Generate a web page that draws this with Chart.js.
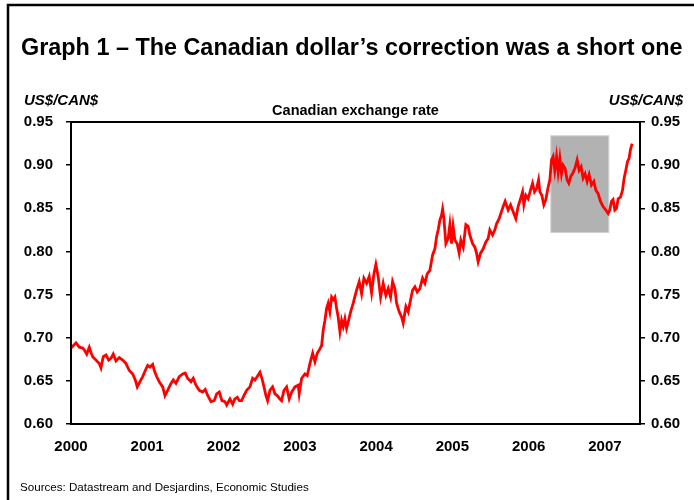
<!DOCTYPE html>
<html>
<head>
<meta charset="utf-8">
<script src="https://cdn.jsdelivr.net/npm/chart.js@4/dist/chart.umd.min.js"></script>
<style>
  html, body { margin: 0; padding: 0; background: #fff; }
  canvas { display: block; }
</style>
</head>
<body>
<canvas id="myChart" width="694" height="500"></canvas>
<script>
// CAD in US$ (decimal years)
const years = [
  2000.000, 2000.066, 2000.109, 2000.153, 2000.174, 2000.206, 2000.240, 2000.262, 2000.284, 2000.328,
  2000.371, 2000.393, 2000.423, 2000.459, 2000.494, 2000.524, 2000.554, 2000.590, 2000.633, 2000.678,
  2000.721, 2000.764, 2000.809, 2000.843, 2000.869, 2000.904, 2000.940, 2000.974, 2001.005, 2001.035,
  2001.071, 2001.092, 2001.123, 2001.157, 2001.202, 2001.232, 2001.267, 2001.311, 2001.341, 2001.376,
  2001.419, 2001.464, 2001.498, 2001.529, 2001.573, 2001.603, 2001.638, 2001.682, 2001.726, 2001.760,
  2001.792, 2001.835, 2001.878, 2001.910, 2001.944, 2001.979, 2002.018, 2002.041, 2002.084, 2002.119,
  2002.149, 2002.180, 2002.206, 2002.237, 2002.267, 2002.303, 2002.346, 2002.381, 2002.412, 2002.442,
  2002.477, 2002.503, 2002.530, 2002.556, 2002.578, 2002.608, 2002.643, 2002.674, 2002.704, 2002.739,
  2002.761, 2002.792, 2002.827, 2002.861, 2002.893, 2002.936, 2002.979, 2002.992, 2003.024, 2003.067,
  2003.097, 2003.132, 2003.168, 2003.198, 2003.228, 2003.263, 2003.286, 2003.307, 2003.329, 2003.351,
  2003.372, 2003.394, 2003.417, 2003.438, 2003.460, 2003.482, 2003.503, 2003.526, 2003.548, 2003.569,
  2003.591, 2003.613, 2003.634, 2003.666, 2003.700, 2003.744, 2003.779, 2003.810, 2003.840, 2003.876,
  2003.910, 2003.941, 2003.971, 2003.997, 2004.027, 2004.059, 2004.093, 2004.128, 2004.159, 2004.190,
  2004.216, 2004.246, 2004.269, 2004.303, 2004.334, 2004.355, 2004.391, 2004.421, 2004.443, 2004.478,
  2004.509, 2004.539, 2004.574, 2004.609, 2004.640, 2004.670, 2004.705, 2004.741, 2004.771, 2004.793,
  2004.814, 2004.836, 2004.858, 2004.872, 2004.889, 2004.915, 2004.945, 2004.967, 2004.990, 2005.010,
  2005.033, 2005.063, 2005.089, 2005.111, 2005.142, 2005.177, 2005.207, 2005.229, 2005.265, 2005.295,
  2005.317, 2005.338, 2005.370, 2005.404, 2005.439, 2005.469, 2005.491, 2005.527, 2005.557, 2005.579,
  2005.613, 2005.666, 2005.692, 2005.731, 2005.763, 2005.797, 2005.832, 2005.862, 2005.894, 2005.920,
  2005.937, 2005.963, 2005.993, 2006.025, 2006.051, 2006.077, 2006.104, 2006.130, 2006.147, 2006.173,
  2006.199, 2006.225, 2006.252, 2006.278, 2006.300, 2006.321, 2006.343, 2006.366, 2006.387, 2006.409,
  2006.431, 2006.452, 2006.478, 2006.504, 2006.527, 2006.553, 2006.575, 2006.606, 2006.636, 2006.662,
  2006.688, 2006.714, 2006.740, 2006.767, 2006.793, 2006.824, 2006.855, 2006.881, 2006.911, 2006.942,
  2006.976, 2007.012, 2007.042, 2007.064, 2007.086, 2007.107, 2007.130, 2007.152, 2007.173, 2007.204,
  2007.231, 2007.252, 2007.274, 2007.296, 2007.317, 2007.335, 2007.357,
]
const rates = [
  0.688, 0.694, 0.689, 0.688, 0.686, 0.681, 0.689, 0.683, 0.678, 0.674,
  0.670, 0.665, 0.678, 0.680, 0.674, 0.676, 0.681, 0.673, 0.677, 0.674,
  0.670, 0.662, 0.658, 0.651, 0.643, 0.649, 0.655, 0.662, 0.668, 0.666,
  0.669, 0.662, 0.655, 0.649, 0.643, 0.633, 0.639, 0.647, 0.651, 0.647,
  0.655, 0.658, 0.659, 0.653, 0.649, 0.653, 0.645, 0.639, 0.637, 0.640,
  0.633, 0.626, 0.627, 0.635, 0.637, 0.627, 0.626, 0.622, 0.629, 0.623,
  0.629, 0.631, 0.627, 0.627, 0.633, 0.639, 0.643, 0.653, 0.651, 0.655,
  0.660, 0.653, 0.643, 0.633, 0.627, 0.639, 0.643, 0.635, 0.633, 0.629,
  0.627, 0.639, 0.643, 0.629, 0.637, 0.643, 0.645, 0.635, 0.653, 0.658,
  0.656, 0.670, 0.682, 0.672, 0.682, 0.687, 0.691, 0.709, 0.720, 0.734,
  0.740, 0.730, 0.747, 0.744, 0.747, 0.734, 0.724, 0.707, 0.720, 0.713,
  0.722, 0.711, 0.718, 0.730, 0.740, 0.755, 0.765, 0.751, 0.769, 0.763,
  0.771, 0.752, 0.774, 0.785, 0.771, 0.747, 0.763, 0.749, 0.757, 0.747,
  0.765, 0.757, 0.740, 0.730, 0.724, 0.717, 0.736, 0.730, 0.740, 0.755,
  0.759, 0.753, 0.757, 0.769, 0.763, 0.774, 0.778, 0.796, 0.803, 0.817,
  0.825, 0.836, 0.842, 0.849, 0.838, 0.809, 0.815, 0.831, 0.809, 0.829,
  0.813, 0.809, 0.798, 0.813, 0.805, 0.831, 0.829, 0.819, 0.809, 0.805,
  0.798, 0.788, 0.798, 0.803, 0.811, 0.815, 0.825, 0.819, 0.825, 0.832,
  0.838, 0.852, 0.858, 0.848, 0.854, 0.846, 0.838, 0.852, 0.861, 0.869,
  0.854, 0.865, 0.861, 0.871, 0.879, 0.869, 0.873, 0.883, 0.869, 0.865,
  0.854, 0.860, 0.873, 0.883, 0.906, 0.910, 0.894, 0.910, 0.892, 0.908,
  0.890, 0.900, 0.896, 0.883, 0.879, 0.887, 0.890, 0.896, 0.906, 0.894,
  0.898, 0.885, 0.890, 0.881, 0.889, 0.877, 0.881, 0.871, 0.867, 0.858,
  0.852, 0.848, 0.844, 0.848, 0.858, 0.860, 0.848, 0.850, 0.861, 0.863,
  0.871, 0.885, 0.894, 0.904, 0.908, 0.918, 0.925,
]

const yearTicks = [2000, 2001, 2002, 2003, 2004, 2005, 2006, 2007]
const rateTicks = [0.60, 0.65, 0.70, 0.75, 0.80, 0.85, 0.90, 0.95]

// shaded correction period
const shadeFrom = 2006.291
const shadeTo = 2007.051
const shadeLow = 0.822
const shadeHigh = 0.934

const FONT = 'Arial, "Liberation Sans", sans-serif'

const decorations = {
  id: 'decorations',
  beforeDatasetsDraw(chart) {
    const { ctx, scales } = chart
    const x = scales.x
    const y = scales.y
    const left = x.getPixelForValue(shadeFrom)
    const right = x.getPixelForValue(shadeTo)
    const top = y.getPixelForValue(shadeHigh)
    const bottom = y.getPixelForValue(shadeLow)
    ctx.save()
    ctx.fillStyle = '#b2b2b2'
    ctx.fillRect(left, top, right - left, bottom - top)
    ctx.strokeStyle = '#d0d0d0'
    ctx.lineWidth = 1
    ctx.strokeRect(left, top, right - left, bottom - top)
    ctx.restore()
  },
  afterDraw(chart) {
    const { ctx, chartArea } = chart
    ctx.save()
    // plot frame
    ctx.strokeStyle = '#000'
    ctx.lineWidth = 2
    ctx.strokeRect(chartArea.left, chartArea.top, chartArea.right - chartArea.left, chartArea.bottom - chartArea.top)
    // outer frame (cut on right and bottom)
    ctx.lineWidth = 2.5
    ctx.beginPath()
    ctx.moveTo(8, 500)
    ctx.lineTo(8, 5)
    ctx.lineTo(694, 5)
    ctx.stroke()

    ctx.fillStyle = '#000'
    ctx.textBaseline = 'alphabetic'
    ctx.textAlign = 'left'
    ctx.font = 'bold 23.4px ' + FONT
    ctx.fillText('Graph 1 – The Canadian dollar’s correction was a short one', 21, 55)

    ctx.font = 'italic bold 15px ' + FONT
    ctx.fillText('US$/CAN$', 24, 105)
    ctx.textAlign = 'right'
    ctx.fillText('US$/CAN$', 683, 105)

    ctx.textAlign = 'center'
    ctx.font = 'bold 14.5px ' + FONT
    ctx.fillText('Canadian exchange rate', (chartArea.left + chartArea.right) / 2, 115)

    ctx.textAlign = 'left'
    ctx.font = '11.6px ' + FONT
    ctx.fillText('Sources: Datastream and Desjardins, Economic Studies', 20, 491)
    ctx.restore()
  },
}

const yAxis = (position) => ({
  type: 'linear',
  position: position,
  min: 0.6,
  max: 0.95,
  afterBuildTicks: (scale) => {
    scale.ticks = rateTicks.map((v) => ({ value: v }))
  },
  afterFit: (scale) => {
    scale.width = position === 'left' ? 71 : 54
  },
  border: { display: false },
  grid: {
    drawOnChartArea: false,
    drawTicks: true,
    tickLength: 5,
    color: '#000',
    lineWidth: 1.5,
  },
  ticks: {
    color: '#000',
    padding: position === 'left' ? 13 : 6,
    font: { family: FONT, size: 15, weight: 'bold' },
    callback: (v) => v.toFixed(2),
  },
})

const ctx = document.getElementById('myChart').getContext('2d')
new Chart(ctx, {
  type: 'line',
  data: {
    datasets: [
      {
        data: years.map((yr, i) => ({ x: yr, y: rates[i] })),
        borderColor: '#ff0000',
        borderWidth: 2.8,
        pointRadius: 0,
        tension: 0,
        yAxisID: 'y',
      },
    ],
  },
  options: {
    responsive: false,
    animation: false,
    devicePixelRatio: 1,
    layout: { padding: { top: 122, left: 0, right: 0, bottom: 0 } },
    plugins: {
      legend: { display: false },
      tooltip: { enabled: false },
      title: { display: false },
    },
    scales: {
      x: {
        type: 'linear',
        min: 2000,
        max: 2007.46,
        afterBuildTicks: (scale) => {
          scale.ticks = yearTicks.map((v) => ({ value: v }))
        },
        afterFit: (scale) => {
          scale.height = 76
        },
        border: { display: false },
        grid: { display: false },
        ticks: {
          color: '#000',
          padding: 6,
          maxRotation: 0,
          autoSkip: false,
          font: { family: FONT, size: 15, weight: 'bold' },
          callback: (v) => String(v),
        },
      },
      y: yAxis('left'),
      y2: yAxis('right'),
    },
  },
  plugins: [decorations],
})
</script>
</body>
</html>
